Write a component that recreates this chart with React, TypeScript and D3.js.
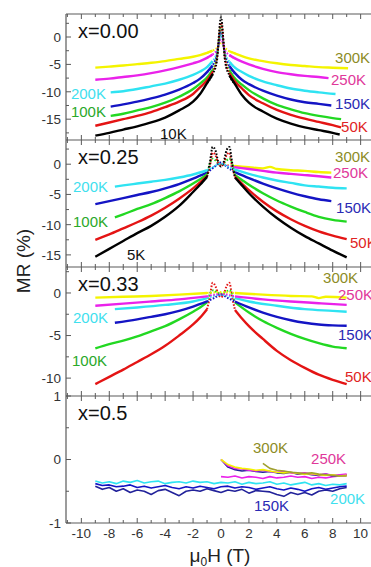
import React from "react";
import * as d3 from "d3";

type Pt = [number, number];

// ---- data (MR in %, field in T) ----
const xTicks = [-10, -8, -6, -4, -2, 0, 2, 4, 6, 8, 10];

// x = 0.00
const p1_300K: Pt[] = [[-9,-5.6],[-8,-5.4],[-7,-5.2],[-6,-4.95],[-5,-4.7],[-4,-4.4],[-3,-4.0],[-2,-3.6],[-1.5,-3.3],[-1,-2.9],[-0.6,-2.5],[-0.3,-2.0],[0,-1.0],[0.3,-2.0],[0.6,-2.6],[1,-3.0],[1.5,-3.5],[2,-3.9],[3,-4.4],[4,-4.8],[5,-5.1],[6,-5.3],[7,-5.5],[8,-5.6],[9.1,-5.7]];
const p1_250K: Pt[] = [[-9,-7.8],[-8,-7.6],[-7,-7.3],[-6,-7.0],[-5,-6.6],[-4,-6.1],[-3,-5.5],[-2,-4.8],[-1.5,-4.4],[-1,-3.8],[-0.6,-3.2],[-0.3,-2.4],[0,-0.5],[0.3,-2.5],[0.6,-3.3],[1,-3.9],[1.5,-4.5],[2,-5.0],[3,-5.8],[4,-6.4],[5,-6.8],[6,-7.1],[7,-7.3],[7.7,-7.5]];
const p1_200K: Pt[] = [[-7.9,-10.1],[-7,-9.9],[-6,-9.5],[-5,-9.0],[-4,-8.5],[-3,-7.8],[-2,-6.9],[-1.5,-6.3],[-1,-5.5],[-0.6,-4.4],[-0.3,-3.0],[0,0.5],[0.3,-3.1],[0.6,-4.5],[1,-5.6],[1.5,-6.4],[2,-7.1],[3,-8.1],[4,-8.8],[5,-9.4],[6,-9.8],[7,-10.1],[8.2,-10.4]];
const p1_150K: Pt[] = [[-7.9,-12.7],[-7,-12.3],[-6,-11.8],[-5,-11.2],[-4,-10.5],[-3,-9.6],[-2,-8.4],[-1.5,-7.6],[-1,-6.4],[-0.6,-5.2],[-0.3,-3.3],[0,1.2],[0.3,-3.4],[0.6,-5.3],[1,-6.6],[1.5,-7.8],[2,-8.6],[3,-9.8],[4,-10.7],[5,-11.4],[6,-11.9],[7,-12.2],[7.9,-12.5]];
const p1_100K: Pt[] = [[-7.9,-14.4],[-7,-14.0],[-6,-13.4],[-5,-12.8],[-4,-12.0],[-3,-10.9],[-2,-9.5],[-1.5,-8.5],[-1,-7.4],[-0.6,-6.0],[-0.3,-3.8],[0,2.0],[0.3,-3.9],[0.6,-6.1],[1,-7.6],[1.5,-8.7],[2,-9.7],[3,-11.2],[4,-12.4],[5,-13.2],[6,-13.9],[7,-14.4],[8,-14.8],[8.6,-15.0]];
const p1_50K: Pt[] = [[-9,-16.2],[-8,-15.6],[-7,-15.0],[-6,-14.4],[-5,-13.7],[-4,-12.8],[-3,-11.8],[-2,-10.4],[-1.5,-9.2],[-1,-7.9],[-0.6,-6.4],[-0.3,-4.0],[0,2.6],[0.3,-4.1],[0.6,-6.6],[1,-8.1],[1.5,-9.4],[2,-10.6],[3,-12.1],[4,-13.3],[5,-14.2],[6,-14.9],[7,-15.5],[8,-16.1],[8.6,-16.5]];
const p1_10K: Pt[] = [[-9,-18.0],[-8,-17.5],[-7,-16.9],[-6,-16.3],[-5,-15.6],[-4,-14.7],[-3,-13.4],[-2,-11.8],[-1.5,-10.4],[-1,-8.4],[-0.6,-6.8],[-0.3,-4.5],[0,3.6],[0.3,-4.6],[0.6,-7.0],[1,-8.6],[1.5,-10.6],[2,-12.0],[3,-13.6],[4,-14.9],[5,-15.8],[6,-16.5],[7,-17.0],[8,-17.5],[8.5,-17.8]];

// x = 0.25
const p2_300K: Pt[] = [[0,0],[1,-0.3],[2,-0.5],[3,-0.7],[3.5,-0.45],[4,-0.8],[5,-1.0],[6,-1.1],[7,-1.3],[7.9,-1.4]];
const p2_250K: Pt[] = [[0,0],[1,-0.5],[2,-0.8],[3,-1.1],[4,-1.4],[5,-1.6],[6,-1.8],[7,-2.0],[7.9,-2.2]];
const p2_200K: Pt[] = [[-7.6,-3.7],[-7,-3.5],[-6,-3.2],[-5,-2.9],[-4,-2.6],[-3,-2.2],[-2,-1.7],[-1,-1.0],[-0.5,-0.4],[0,0.1],[0.5,-0.4],[1,-0.9],[2,-1.6],[3,-2.2],[4,-2.7],[5,-3.1],[6,-3.5],[7,-3.7],[8,-3.9],[9,-4.0]];
const p2_150K: Pt[] = [[-9,-6.6],[-8,-6.1],[-7,-5.6],[-6,-5.1],[-5,-4.6],[-4,-4.0],[-3,-3.3],[-2,-2.4],[-1,-1.4],[-0.5,-0.5],[0,0.3],[0.5,-0.6],[1,-1.3],[2,-2.3],[3,-3.2],[4,-4.0],[5,-4.7],[6,-5.3],[7,-5.8],[7.9,-6.1]];
const p2_100K: Pt[] = [[-7.6,-8.8],[-7,-8.3],[-6,-7.4],[-5,-6.6],[-4,-5.6],[-3,-4.5],[-2,-3.2],[-1.5,-2.5],[-1,-1.7],[-0.6,0.9],[-0.3,0.4],[0,-0.2],[0.3,0.4],[0.6,0.9],[1,-1.8],[1.5,-2.6],[2,-3.4],[3,-4.8],[4,-6.0],[5,-7.0],[6,-7.9],[7,-8.7],[8,-9.2],[9,-9.5]];
const p2_50K: Pt[] = [[-9,-12.5],[-8,-11.6],[-7,-10.6],[-6,-9.6],[-5,-8.5],[-4,-7.2],[-3,-5.7],[-2,-4.0],[-1.5,-3.0],[-1,-2.0],[-0.8,-0.4],[-0.6,1.9],[-0.4,1.5],[-0.2,0.2],[0,-0.3],[0.2,0.2],[0.4,1.5],[0.6,1.9],[0.8,-0.4],[1,-2.1],[1.5,-3.2],[2,-4.3],[3,-6.2],[4,-7.8],[5,-9.1],[6,-10.2],[7,-11.1],[8,-11.8],[9,-12.4]];
const p2_5K: Pt[] = [[-9,-15.3],[-8,-14.0],[-7,-12.7],[-6,-11.4],[-5,-10.2],[-4,-8.7],[-3,-6.9],[-2,-4.6],[-1.5,-3.4],[-1,-2.1],[-0.8,0.2],[-0.6,2.85],[-0.4,2.3],[-0.2,0.4],[0,-0.4],[0.2,0.4],[0.4,2.3],[0.6,2.85],[0.8,0.2],[1,-2.2],[1.5,-3.5],[2,-4.8],[3,-7.0],[4,-8.9],[5,-10.5],[6,-11.9],[7,-13.1],[8,-14.3],[9,-15.4]];

// x = 0.33
const p3_300K: Pt[] = [[-9,-0.55],[-7,-0.45],[-5,-0.35],[-3,-0.2],[-1,0],[0,0.1],[1,0],[3,-0.2],[5,-0.35],[6.5,-0.4],[7,-0.6],[7.5,-0.45],[9,-0.55]];
const p3_250K: Pt[] = [[-9,-1.5],[-7,-1.25],[-5,-1.0],[-3,-0.75],[-1,-0.4],[0,-0.1],[1,-0.4],[3,-0.75],[5,-1.0],[7,-1.2],[9,-1.4]];
const p3_200K: Pt[] = [[-7.6,-1.9],[-6,-1.7],[-4,-1.4],[-2,-1.0],[-1,-0.6],[0,-0.2],[1,-0.6],[2,-1.0],[4,-1.5],[6,-1.9],[8,-2.1],[9,-2.2]];
const p3_150K: Pt[] = [[-7.6,-3.5],[-6,-3.1],[-5,-2.8],[-4,-2.5],[-3,-2.1],[-2,-1.6],[-1,-1.0],[-0.5,-0.6],[0,-0.2],[0.5,-0.6],[1,-1.0],[2,-1.7],[3,-2.3],[4,-2.8],[5,-3.2],[6,-3.5],[7,-3.7],[8,-3.8],[9,-3.85]];
const p3_100K: Pt[] = [[-9,-6.5],[-8,-6.0],[-7,-5.6],[-6,-5.1],[-5,-4.5],[-4,-3.9],[-3,-3.1],[-2,-2.2],[-1.5,-1.7],[-1,-1.1],[-0.6,0.3],[-0.3,0.1],[0,-0.1],[0.3,0.1],[0.6,0.3],[1,-1.1],[2,-2.3],[3,-3.3],[4,-4.1],[5,-4.8],[6,-5.4],[7,-5.9],[8,-6.3],[9,-6.5]];
const p3_50K: Pt[] = [[-9,-10.7],[-8,-9.85],[-7,-9.0],[-6,-8.1],[-5,-7.2],[-4,-6.2],[-3,-5.0],[-2,-3.7],[-1.5,-2.9],[-1,-1.9],[-0.8,-0.5],[-0.6,1.2],[-0.4,0.8],[-0.2,-0.1],[0,-0.5],[0.2,-0.1],[0.4,0.8],[0.6,1.2],[0.8,-0.5],[1,-2.0],[1.5,-3.0],[2,-3.9],[3,-5.4],[4,-6.8],[5,-7.9],[6,-8.8],[7,-9.6],[8,-10.2],[9,-10.7]];

// x = 0.5 (noisy sweeps)
const fieldSweep = [-9,-8.5,-8,-7.5,-7,-6.5,-6,-5.5,-5,-4.5,-4,-3.5,-3,-2.5,-2,-1.5,-1,-0.5,0,0.5,1,1.5,2,2.5,3,3.5,4,4.5,5,5.5,6,6.5,7,7.5,8,8.5,9];
const fieldUp = [0,0.5,1,1.5,2,2.5,3,3.5,4,4.5,5,5.5,6,6.5,7,7.5,8,8.5,9];
const fieldOlive = [3,3.5,4,4.5,5,5.5,6,6.5,7,7.5,8,8.5,9];
const p4_200K = [-0.34,-0.37,-0.35,-0.38,-0.34,-0.36,-0.33,-0.37,-0.35,-0.34,-0.38,-0.36,-0.35,-0.37,-0.34,-0.36,-0.35,-0.38,-0.36,-0.37,-0.35,-0.39,-0.36,-0.38,-0.37,-0.35,-0.39,-0.37,-0.4,-0.38,-0.36,-0.4,-0.38,-0.41,-0.39,-0.4,-0.38];
const p4_150Ka = [-0.38,-0.41,-0.4,-0.43,-0.42,-0.4,-0.44,-0.42,-0.45,-0.43,-0.41,-0.44,-0.46,-0.43,-0.45,-0.42,-0.44,-0.46,-0.43,-0.42,-0.45,-0.43,-0.44,-0.47,-0.45,-0.43,-0.46,-0.48,-0.45,-0.47,-0.5,-0.46,-0.44,-0.47,-0.45,-0.43,-0.42];
const p4_150Kb = [-0.42,-0.47,-0.44,-0.5,-0.46,-0.52,-0.48,-0.5,-0.55,-0.49,-0.47,-0.52,-0.57,-0.5,-0.48,-0.5,-0.46,-0.49,-0.52,-0.48,-0.5,-0.47,-0.53,-0.49,-0.5,-0.51,-0.55,-0.58,-0.52,-0.55,-0.52,-0.56,-0.5,-0.48,-0.5,-0.46,-0.44];
const p4_250Klow = [-0.27,-0.28,-0.26,-0.29,-0.27,-0.28,-0.3,-0.27,-0.29,-0.28,-0.26,-0.28,-0.27,-0.3,-0.28,-0.29,-0.27,-0.26,-0.25];
const p4_150Kup = [0,-0.12,-0.16,-0.18,-0.17,-0.19,-0.2,-0.19,-0.21,-0.22,-0.2,-0.23,-0.22,-0.24,-0.25,-0.23,-0.26,-0.25,-0.24];
const p4_250Kup = [0,-0.1,-0.14,-0.15,-0.17,-0.18,-0.17,-0.19,-0.2,-0.19,-0.21,-0.22,-0.21,-0.23,-0.24,-0.23,-0.25,-0.24,-0.23];
const p4_yellow = [0,-0.08,-0.12,-0.14,-0.15,-0.17,-0.16,-0.18,-0.2,-0.21,-0.2,-0.22,-0.23,-0.22,-0.24,-0.25,-0.24,-0.26,-0.25];
const p4_300K = [-0.06,-0.14,-0.17,-0.18,-0.2,-0.21,-0.22,-0.21,-0.23,-0.24,-0.25,-0.26,-0.26];

// ---- styling / layout ----
const C = {
  yellow: "#f4f400", magenta: "#ea22ea", cyan: "#2fe3f2", blue: "#1414c4",
  navy: "#22229a", green: "#22d822", red: "#e41414", black: "#000",
};
const LC = {
  k300: "#8c8c26", k250: "#e0389a", k200: "#3fe0ee", k150: "#2a2ab4",
  k100: "#2aa82a", k50: "#e02424", low: "#111",
};

const zip = (xs: number[], ys: number[]): Pt[] => xs.map((x, i) => [x, ys[i]] as Pt);

const panels = [
  {
    name: "x=0.00", top: 14, bottom: 140, domain: [-18.8, 4.2], ticks: [0, -5, -10, -15], minor: 2.5, cut: 0.5, width: 2.4, smooth: true,
    series: [
      { d: p1_300K, c: C.yellow }, { d: p1_250K, c: C.magenta }, { d: p1_200K, c: C.cyan },
      { d: p1_150K, c: C.blue }, { d: p1_100K, c: C.green }, { d: p1_50K, c: C.red }, { d: p1_10K, c: C.black },
    ],
    labels: [
      { t: "300K", h: 8.17, v: -4.75, c: LC.k300 }, { t: "250K", h: 7.88, v: -8.76, c: LC.k250 },
      { t: "200K", h: -10.75, v: -11.3, c: LC.k200 }, { t: "150K", h: 8.17, v: -13.1, c: LC.k150 },
      { t: "100K", h: -10.75, v: -14.6, c: LC.k100 }, { t: "50K", h: 8.6, v: -17.3, c: LC.k50 },
      { t: "10K", h: -4.37, v: -18.6, c: LC.low },
    ],
  },
  {
    name: "x=0.25", top: 140, bottom: 267, domain: [-17, 4], ticks: [0, -5, -10, -15], minor: 2.5, cut: 0.9, width: 2.4, smooth: true,
    series: [
      { d: p2_300K, c: C.yellow }, { d: p2_250K, c: C.magenta }, { d: p2_150K, c: C.blue },
      { d: p2_100K, c: C.green }, { d: p2_50K, c: C.red }, { d: p2_5K, c: C.black }, { d: p2_200K, c: C.cyan },
    ],
    labels: [
      { t: "300K", h: 8.17, v: 0.3, c: LC.k300 }, { t: "250K", h: 8.02, v: -2.35, c: LC.k250 },
      { t: "200K", h: -10.6, v: -4.6, c: LC.k200 }, { t: "150K", h: 8.24, v: -8.07, c: LC.k150 },
      { t: "100K", h: -10.6, v: -10.4, c: LC.k100 }, { t: "50K", h: 9.24, v: -13.86, c: LC.k50 },
      { t: "5K", h: -6.73, v: -15.84, c: LC.low },
    ],
  },
  {
    name: "x=0.33", top: 267, bottom: 396, domain: [-12.1, 3.05], ticks: [0, -5, -10], minor: 2.5, cut: 0.9, width: 2.4, smooth: true,
    series: [
      { d: p3_50K, c: C.red }, { d: p3_100K, c: C.green }, { d: p3_150K, c: C.blue },
      { d: p3_200K, c: C.cyan }, { d: p3_250K, c: C.magenta }, { d: p3_300K, c: C.yellow },
    ],
    labels: [
      { t: "300K", h: 7.31, v: 1.17, c: LC.k300 }, { t: "250K", h: 8.38, v: -0.82, c: LC.k250 },
      { t: "200K", h: -10.6, v: -3.52, c: LC.k200 }, { t: "150K", h: 8.38, v: -5.52, c: LC.k150 },
      { t: "100K", h: -10.67, v: -8.57, c: LC.k100 }, { t: "50K", h: 8.88, v: -10.45, c: LC.k50 },
    ],
  },
  {
    name: "x=0.5", top: 396, bottom: 523, domain: [-1, 1], ticks: [1, 0, -1], minor: 0.5, cut: 0, width: 1.6, smooth: false,
    series: [
      { d: zip(fieldSweep, p4_200K), c: C.cyan }, { d: zip(fieldSweep, p4_150Ka), c: C.blue },
      { d: zip(fieldSweep, p4_150Kb), c: C.navy }, { d: zip(fieldUp, p4_250Klow), c: C.magenta },
      { d: zip(fieldUp, p4_150Kup), c: C.navy }, { d: zip(fieldUp, p4_250Kup), c: C.magenta },
      { d: zip(fieldUp, p4_yellow), c: C.yellow }, { d: zip(fieldOlive, p4_300K), c: "#a0a030" },
    ],
    labels: [
      { t: "300K", h: 2.29, v: 0.1, c: LC.k300 }, { t: "250K", h: 6.45, v: -0.07, c: LC.k250 },
      { t: "150K", h: 2.36, v: -0.81, c: LC.k150 }, { t: "200K", h: 7.81, v: -0.7, c: LC.k200 },
    ],
  },
];

const FONT = "'Liberation Sans', Arial, Helvetica, sans-serif";
const AXIS = "#5a5a5a";

export default function App() {
  const x = d3.scaleLinear().domain([-11.1, 11.1]).range([66, 376]);
  const xMinor = d3.range(-11, 12, 1);

  return (
    <svg width={371} height={567} style={{ position: "absolute", left: 0, top: 0, background: "#fff" }} fontFamily={FONT}>
      {panels.map((p, pi) => {
        const y = d3.scaleLinear().domain(p.domain).range([p.bottom, p.top]);
        const curve = p.smooth ? d3.curveMonotoneX : d3.curveLinear;
        const solid = d3.line<Pt>().x((d) => x(d[0])).y((d) => y(d[1]))
          .defined((d) => Math.abs(d[0]) >= p.cut).curve(curve);
        const dotted = d3.line<Pt>().x((d) => x(d[0])).y((d) => y(d[1]))
          .defined((d) => Math.abs(d[0]) <= p.cut + 0.5).curve(curve);
        const [lo, hi] = p.domain;
        const yMinor = d3.range(Math.ceil(lo / p.minor) * p.minor, hi + 1e-6, p.minor);
        return (
          <g key={pi}>
            {p.series.map((s, si) => (
              <g key={si}>
                <path d={solid(s.d) || ""} fill="none" stroke={s.c} strokeWidth={p.width} strokeLinejoin="round" />
                {p.cut > 0 && (
                  <path d={dotted(s.d) || ""} fill="none" stroke={s.c} strokeWidth={2}
                    strokeDasharray="1.6 1.6" />
                )}
              </g>
            ))}
            {/* top/bottom x ticks */}
            {xMinor.map((t) => {
              const len = t % 2 === 0 ? 5 : 3;
              return (
                <g key={"xt" + t} stroke={AXIS} strokeWidth={1}>
                  <line x1={x(t)} x2={x(t)} y1={p.top} y2={p.top + len} />
                  <line x1={x(t)} x2={x(t)} y1={p.bottom} y2={p.bottom - len} />
                </g>
              );
            })}
            <line x1={66} x2={376} y1={p.top} y2={p.top} stroke={AXIS} strokeWidth={1.2} />
            {/* y ticks */}
            {yMinor.map((t, i) => {
              const major = p.ticks.some((m) => Math.abs(m - t) < 1e-6);
              return <line key={"ym" + i} x1={66} x2={66 + (major ? 5 : 3)} y1={y(t)} y2={y(t)} stroke={AXIS} strokeWidth={1} />;
            })}
            {p.ticks.map((t) => (
              <text key={"yl" + t} x={61} y={y(t)} dy="0.36em" textAnchor="end" fontSize={13.5} fill="#333">
                {t}
              </text>
            ))}
            <text x={78} y={p.top + 24} fontSize={20} fill="#111">{p.name}</text>
            {p.labels.map((l, li) => (
              <text key={"lb" + li} x={x(l.h)} y={y(l.v)} fontSize={15} fill={l.c}>{l.t}</text>
            ))}
          </g>
        );
      })}
      <line x1={66} x2={66} y1={14} y2={523} stroke={AXIS} strokeWidth={1.2} />
      <line x1={66} x2={376} y1={523} y2={523} stroke={AXIS} strokeWidth={1.2} />
      {xTicks.map((t) => (
        <text key={"xl" + t} x={x(t)} y={538} textAnchor="middle" fontSize={13.5} fill="#333">{t}</text>
      ))}
      <text x={220} y={562} textAnchor="middle" fontSize={19} fill="#222">
        μ<tspan fontSize={12} dy={4}>0</tspan><tspan dy={-4}>H (T)</tspan>
      </text>
      <text transform="translate(30,261) rotate(-90)" textAnchor="middle" fontSize={19} fill="#222">MR (%)</text>
    </svg>
  );
}
